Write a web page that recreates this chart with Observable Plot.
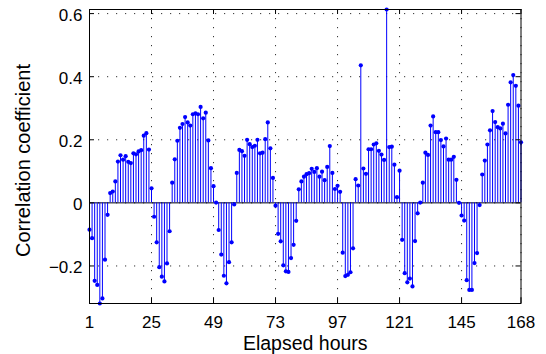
<!DOCTYPE html>
<html>
<head>
<meta charset="utf-8">
<script src="https://cdn.jsdelivr.net/npm/d3@7"></script>
<script src="https://cdn.jsdelivr.net/npm/@observablehq/plot@0.6"></script>
<style>
  html, body { margin: 0; padding: 0; background: white; }
</style>
</head>
<body>
<div id="chart"></div>
<script>
// Correlation coefficient per elapsed hour (1..168)
const corr = [
  -0.085, -0.112, -0.247, -0.260, -0.319, -0.303, -0.180, -0.038, 0.031, 0.036,
  0.068, 0.131, 0.151, 0.137, 0.148, 0.130, 0.126, 0.157, 0.154, 0.163,
  0.167, 0.213, 0.221, 0.169, 0.046, -0.044, -0.125, -0.204, -0.234, -0.249,
  -0.192, -0.090, 0.064, 0.138, 0.197, 0.238, 0.250, 0.272, 0.255, 0.245,
  0.281, 0.284, 0.281, 0.304, 0.268, 0.286, 0.198, 0.110, 0.053, 0.001,
  -0.086, -0.164, -0.231, -0.255, -0.188, -0.125, -0.005, 0.095, 0.168, 0.164,
  0.149, 0.200, 0.186, 0.177, 0.181, 0.200, 0.157, 0.159, 0.202, 0.255,
  0.173, 0.079, -0.009, -0.098, -0.122, -0.198, -0.217, -0.219, -0.175, -0.133,
  -0.057, 0.043, 0.068, 0.083, 0.091, 0.094, 0.108, 0.098, 0.110, 0.083,
  0.099, 0.072, 0.114, 0.180, 0.095, 0.044, 0.054, 0.035, -0.158, -0.232,
  -0.228, -0.220, -0.144, 0.075, 0.055, 0.436, 0.109, 0.092, 0.170, 0.170,
  0.185, 0.189, 0.165, 0.153, 0.136, 0.613, 0.177, 0.178, 0.121, 0.018,
  0.102, -0.117, -0.223, -0.252, -0.240, -0.265, -0.121, -0.033, 0.001, 0.064,
  0.159, 0.152, 0.245, 0.274, 0.224, 0.224, 0.199, 0.179, 0.204, 0.137,
  0.137, 0.146, 0.073, 0.000, -0.040, -0.056, -0.245, -0.276, -0.276, -0.191,
  -0.159, -0.007, 0.090, 0.134, 0.185, 0.230, 0.291, 0.256, 0.240, 0.236,
  0.251, 0.220, 0.311, 0.382, 0.405, 0.371, 0.308, 0.192
];
const hours = corr.map((_, i) => i + 1);

const xTicks = [1, 25, 49, 73, 97, 121, 145, 168];
const yTicks = [-0.2, 0, 0.2, 0.4, 0.6];
const yTickLabels = ["\u22120.2", "0", "0.2", "0.4", "0.6"];
const xLabel = ["Elapsed hours"];
const yLabel = ["Correlation coefficient"];

const data = hours.map((h, i) => ({hour: h, r: corr[i]}));

const W = 546, H = 354;
const mL = 89, mR = 25.5, mT = 9, mB = 51;
const innerH = H - mT - mB;
const innerW = W - mL - mR;
const tickLen = 5;
const font = "'Liberation Sans', Arial, Helvetica, sans-serif";

const chart = Plot.plot({
  width: W,
  height: H,
  marginLeft: mL,
  marginRight: mR,
  marginTop: mT,
  marginBottom: mB,
  x: {domain: [1, 168]},
  y: {domain: [-0.319, 0.613]},
  style: {fontFamily: font, fontSize: "17px", color: "black", background: "white"},
  marks: [
    // dotted grid
    Plot.ruleX(xTicks, {x: d => d, stroke: "#333", strokeWidth: 1, strokeDasharray: "1.2,7.8"}),
    Plot.ruleY(yTicks, {y: d => d, stroke: "#333", strokeWidth: 1, strokeDasharray: "1.2,7.8"}),
    // stem baseline
    Plot.ruleY([0], {stroke: "black", strokeWidth: 1}),
    // stems
    Plot.ruleX(data, {x: "hour", y1: 0, y2: "r", stroke: "#0000ff", strokeWidth: 1}),
    Plot.dot(data, {x: "hour", y: "r", r: 2.1, fill: "#0000ff", stroke: "none"}),
    // inward ticks on all four sides
    Plot.tickX(xTicks, {x: d => d, insetTop: innerH - tickLen, stroke: "black"}),
    Plot.tickX(xTicks, {x: d => d, insetBottom: innerH - tickLen, stroke: "black"}),
    Plot.tickY(yTicks, {y: d => d, insetRight: innerW - tickLen, stroke: "black"}),
    Plot.tickY(yTicks, {y: d => d, insetLeft: innerW - tickLen, stroke: "black"}),
    Plot.frame({stroke: "black", strokeWidth: 1}),
    // axes (labels only)
    Plot.axisX({ticks: xTicks, tickSize: 0, tickPadding: 12, tickFormat: d => String(d), label: null, fontSize: 17}),
    Plot.axisY({ticks: yTicks, tickSize: 0, tickPadding: 7, dy: 1.5, tickFormat: d => yTickLabels[yTicks.indexOf(d)], label: null, fontSize: 17}),
    // axis titles
    Plot.text(xLabel, {text: d => d, frameAnchor: "bottom", lineAnchor: "top", dy: 32.5, fontSize: 19.5}),
    Plot.text(yLabel, {text: d => d, frameAnchor: "left", rotate: -90, lineAnchor: "middle", textAnchor: "middle", dx: -66, dy: 4, fontSize: 20})
  ]
});

document.getElementById("chart").appendChild(chart);
</script>
</body>
</html>
